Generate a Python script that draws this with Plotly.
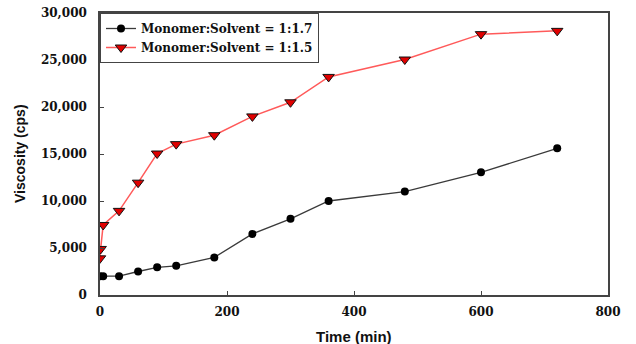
import plotly.graph_objects as go

# Reaction time (min) and viscosity (cps) for two monomer:solvent ratios
time_17 = [0, 5, 30, 60, 90, 120, 180, 240, 300, 360, 480, 600, 720]
visc_17 = [2000, 2000, 2000, 2500, 2950, 3100, 4000, 6500, 8100, 10000, 11000, 13050, 15600]

time_15 = [0, 1, 5, 30, 60, 90, 120, 180, 240, 300, 360, 480, 600, 720]
visc_15 = [3900, 4900, 7450, 8950, 11950, 15050, 16050, 17000, 19000, 20500, 23200, 25050, 27750, 28100]

name_17 = "Monomer:Solvent = 1:1.7"
name_15 = "Monomer:Solvent = 1:1.5"

x_ticks = [0, 200, 400, 600, 800]
y_ticks = [0, 5000, 10000, 15000, 20000, 25000, 30000]
y_labels = ["0", "5,000", "10,000", "15,000", "20,000", "25,000", "30,000"]

tick_font = dict(family="DejaVu Serif", size=12, color="#111111", weight="bold")

fig = go.Figure()
fig.add_trace(go.Scatter(
    x=time_17, y=visc_17, name=name_17, mode="lines+markers",
    line=dict(color="#3a3a3a", width=1.3),
    marker=dict(symbol="circle", size=8, color="#000000",
                line=dict(color="#000000", width=0)),
))
fig.add_trace(go.Scatter(
    x=time_15, y=visc_15, name=name_15, mode="lines+markers",
    line=dict(color="#ff5a5a", width=1.5),
    marker=dict(symbol="triangle-down", size=10, color="#e00000",
                line=dict(color="#111111", width=1)),
))

fig.update_layout(
    width=636, height=344,
    margin=dict(l=100, r=28, t=13, b=49),
    paper_bgcolor="white", plot_bgcolor="white",
    showlegend=True,
    legend=dict(
        x=0, y=1, xanchor="left", yanchor="top",
        bgcolor="white", bordercolor="#444444", borderwidth=1,
        font=dict(family="DejaVu Serif", size=12, color="#111111", weight="bold"),
        tracegroupgap=0, itemwidth=30,
    ),
    xaxis=dict(
        range=[0, 800], tickvals=x_ticks, ticktext=[str(v) for v in x_ticks],
        showgrid=False, zeroline=False, automargin=False,
        showline=True, linecolor="#444444", linewidth=1.5, mirror=True,
        ticks="inside", ticklen=4, tickcolor="#444444",
        tickfont=tick_font, ticklabelstandoff=5,
    ),
    yaxis=dict(
        range=[0, 30000], tickvals=y_ticks, ticktext=y_labels,
        showgrid=False, zeroline=False, automargin=False,
        showline=True, linecolor="#444444", linewidth=1.5, mirror=True,
        ticks="inside", ticklen=4, tickcolor="#444444",
        tickfont=tick_font, ticklabelstandoff=9,
    ),
    annotations=[
        dict(text="Time (min)", xref="paper", yref="paper",
             x=0.5, y=0, yshift=-41, xanchor="center", yanchor="middle",
             showarrow=False,
             font=dict(family="Liberation Sans", size=15, color="#111111", weight="bold")),
        dict(text="Viscosity (cps)", xref="paper", yref="paper",
             x=0, y=0.5, xshift=-80, xanchor="center", yanchor="middle",
             textangle=-90, showarrow=False,
             font=dict(family="Liberation Sans", size=14, color="#111111", weight="bold")),
    ],
)

fig.write_html("out.html")
